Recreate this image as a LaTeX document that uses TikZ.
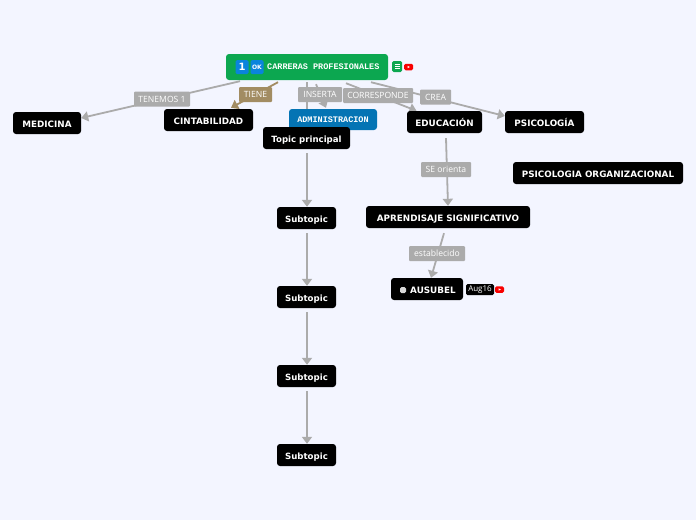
\documentclass[tikz,border=0pt]{standalone}
\usepackage{fontspec}
\setmainfont{DejaVu Sans}
\newfontfamily\labelfont{Open Sans}
\newfontfamily\rootfont{Liberation Mono}
\usetikzlibrary{arrows.meta}
\definecolor{pagebg}{HTML}{F3F5FF}
\definecolor{rootgreen}{HTML}{0CA750}
\definecolor{adminblue}{HTML}{0474B4}
\definecolor{linkgray}{HTML}{ABABAB}
\definecolor{linkbrown}{HTML}{A28C62}
\definecolor{iconblue}{HTML}{0A84DC}
\definecolor{iconred}{HTML}{F80000}
\pgfdeclarelayer{back}
\pgfsetlayers{back,main}
\begin{document}
\begin{tikzpicture}[x=1pt, y=-1pt, >={Triangle[length=7pt,width=10pt]},
  topic/.style={fill=black, text=white, rounded corners=3pt, font=\fontsize{8.8}{10}\selectfont\bfseries, inner sep=0pt, minimum height=22pt, text height=8.5pt, text depth=0pt},
  subtopic/.style={topic, font=\fontsize{8.6}{10}\selectfont\bfseries},
  monotopic/.style={rounded corners=3pt, text=white, font=\fontsize{8.5}{10}\selectfont\rootfont\bfseries, inner sep=0pt},
  linklabel/.style={fill=linkgray, text=white, rounded corners=1pt, font=\fontsize{8.6}{10}\selectfont\labelfont, inner sep=0pt, minimum height=15pt},
  conn/.style={->, draw=linkgray, line width=1.8pt},
  iconbox/.style={rounded corners=1.5pt, inner sep=0pt}]
\useasboundingbox (0,0) rectangle (696,520);
% nodes
\node[monotopic, fill=rootgreen, minimum width=162pt, minimum height=26pt] (root) at (307,67) {};
\node[topic, minimum width=68pt] (medicina) at (47,123) {MEDICINA};
\node[topic, minimum width=89pt] (cinta) at (208.5,120) {CINTABILIDAD};
\node[monotopic, fill=adminblue, minimum width=88pt, minimum height=21pt] (admin) at (333,119.5) {ADMINISTRACION};
\node[topic, minimum width=75pt] (educa) at (444.5,122) {EDUCACIÓN};
\node[topic, minimum width=79pt] (psico) at (544.5,122) {PSICOLOGÍA};
\node[topic, minimum width=170pt] (organ) at (598,173) {PSICOLOGIA ORGANIZACIONAL};
\node[topic, minimum width=164pt] (aprende) at (448,217) {APRENDISAJE SIGNIFICATIVO};
\node[topic, minimum width=72pt] (ausubel) at (427,289) {};
\node[subtopic, minimum width=87pt] (principal) at (306.5,138) {Topic principal};
\node[subtopic, minimum width=59pt] (sub1) at (306.5,218) {Subtopic};
\node[subtopic, minimum width=59pt] (sub2) at (306.5,297) {Subtopic};
\node[subtopic, minimum width=59pt] (sub3) at (306.5,376) {Subtopic};
\node[subtopic, minimum width=59pt] (sub4) at (306.5,455) {Subtopic};
% connectors
\begin{pgfonlayer}{back}
\fill[pagebg] (0,0) rectangle (696,520);
\draw[conn] ([xshift=-67pt,yshift=-1pt]root.south) -- ([yshift=5pt]medicina.east);
\draw[conn, draw=linkbrown] ([xshift=-29pt,yshift=-2pt]root.south) -- ([xshift=22.5pt,yshift=1pt]cinta.north);
\draw[conn] ([yshift=-2pt]root.south) -- ([xshift=.5pt]principal.north);
\draw[conn] ([xshift=9pt,yshift=-4pt]root.south) -- ([xshift=-7pt,yshift=1pt]admin.north);
\draw[conn] ([xshift=39pt,yshift=-3pt]root.south) -- ([xshift=-28pt]educa.north);
\draw[conn] ([xshift=64pt,yshift=-2pt]root.south) -- ([yshift=6pt]psico.west);
\draw[conn] ([xshift=1.5pt,yshift=-5pt]educa.south) -- (aprende.north);
\draw[conn] ([xshift=-4pt,yshift=-5pt]aprende.south) -- ([xshift=4pt]ausubel.north);
\draw[conn] ([xshift=.5pt,yshift=-4pt]principal.south) -- ([xshift=.5pt]sub1.north);
\draw[conn] ([xshift=.5pt,yshift=-4pt]sub1.south) -- ([xshift=.5pt]sub2.north);
\draw[conn] ([xshift=.5pt,yshift=-4pt]sub2.south) -- ([xshift=.5pt]sub3.north);
\draw[conn] ([xshift=.5pt,yshift=-4pt]sub3.south) -- ([xshift=.5pt]sub4.north);
\end{pgfonlayer}
% link labels
\node[linklabel, minimum width=56pt] (tenemos) at (162,99) {TENEMOS 1};
\node[linklabel, minimum width=33pt, fill=linkbrown] (tiene) at (255.5,94.5) {TIENE};
\node[linklabel, minimum width=44pt] (inserta) at (320,94.5) {INSERTA};
\node[linklabel, minimum width=70pt] (corresponde) at (378,95.5) {CORRESPONDE};
\node[linklabel, minimum width=31pt] (crea) at (435.5,97) {CREA};
\node[linklabel, minimum width=50pt] (orienta) at (446,169.5) {SE orienta};
\node[linklabel, minimum width=56pt] (establecido) at (437,253.5) {establecido};
% icons
\node[iconbox, fill=iconblue, text=white, minimum width=13pt, minimum height=14pt, font=\fontsize{10}{10}\selectfont\bfseries] (uno) at (242,67) {1};
\node[iconbox, fill=iconblue, text=white, minimum width=13pt, minimum height=14pt, font=\fontsize{6}{7}\selectfont\bfseries] (okay) at (257,67) {OK};
\node[monotopic, anchor=west] (rootname) at (267,67) {CARRERAS PROFESIONALES};
\node[iconbox, fill=rootgreen, minimum width=10pt, minimum height=11pt] (notes) at (397,66.5) {};
\draw[white, line width=.7pt] (394.5,64.5) -- (399.5,64.5) (394.5,66.5) -- (399.5,66.5) (394.5,68.5) -- (399.5,68.5);
\node[iconbox, fill=iconred, minimum width=9pt, minimum height=6.5pt] (video) at (408.5,67) {};
\fill[white] (407.5,65.8) -- (410,67) -- (407.5,68.2) -- cycle;
\node[iconbox, fill=white!85!black, minimum width=6pt, minimum height=6pt] (check) at (403,290) {};
\node[anchor=west, text=white, inner sep=0pt, font=\fontsize{8.8}{10}\selectfont\bfseries] (ausubelname) at (410,290) {AUSUBEL};
\node[iconbox, fill=black, text=white, minimum width=28pt, minimum height=11pt, font=\fontsize{8}{9}\selectfont\labelfont] (fecha) at (480,289.5) {Aug16};
\node[iconbox, fill=iconred, minimum width=9pt, minimum height=6.5pt] (videob) at (499.5,289.5) {};
\fill[white] (498.5,288.3) -- (501,289.5) -- (498.5,290.7) -- cycle;
\end{tikzpicture}
\end{document}
